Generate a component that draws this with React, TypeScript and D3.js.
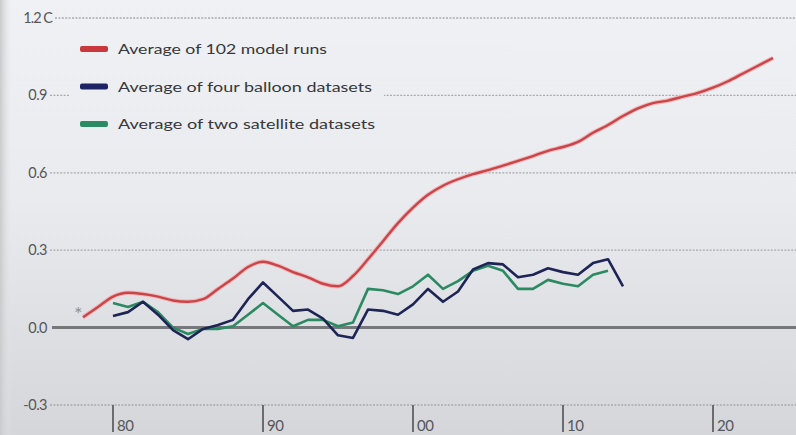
import * as d3 from "d3";

// years and values (deg C anomaly)
const modelYears = d3.range(1978, 2025);
const modelRuns = [
  0.04, 0.08, 0.12, 0.135, 0.13, 0.12, 0.105, 0.1, 0.11, 0.15,
  0.19, 0.235, 0.255, 0.24, 0.215, 0.195, 0.17, 0.16, 0.2, 0.265,
  0.335, 0.405, 0.465, 0.515, 0.55, 0.575, 0.595, 0.61, 0.628, 0.646,
  0.665, 0.685, 0.7, 0.72, 0.755, 0.785, 0.82, 0.85, 0.87, 0.88,
  0.895, 0.91, 0.93, 0.955, 0.985, 1.015, 1.045,
];

const balloonYears = d3.range(1980, 2015);
const balloon = [
  0.045, 0.06, 0.1, 0.05, -0.01, -0.045, -0.005, 0.01, 0.03, 0.11,
  0.175, 0.12, 0.065, 0.07, 0.035, -0.03, -0.04, 0.07, 0.065, 0.05,
  0.09, 0.15, 0.1, 0.14, 0.225, 0.25, 0.245, 0.195, 0.205, 0.23,
  0.215, 0.205, 0.25, 0.265, 0.16,
];

const satelliteYears = d3.range(1980, 2014);
const satellite = [
  0.095, 0.08, 0.1, 0.06, 0.0, -0.025, -0.005, -0.005, 0.005, 0.05,
  0.095, 0.05, 0.005, 0.03, 0.03, 0.005, 0.02, 0.15, 0.145, 0.13,
  0.16, 0.205, 0.15, 0.18, 0.22, 0.24, 0.22, 0.15, 0.15, 0.185,
  0.17, 0.16, 0.205, 0.22,
];

const yTicks = [1.2, 0.9, 0.6, 0.3, 0.0, -0.3];
const yTickLabels = ["1.2 C", "0.9", "0.6", "0.3", "0.0", "-0.3"];
const xTicks = [1980, 1990, 2000, 2010, 2020];
const xTickLabels = ["80", "90", "00", "10", "20"];

const legendLabels = [
  "Average of 102 model runs",
  "Average of four balloon datasets",
  "Average of two satellite datasets",
];
const legendWidths = [209, 254, 257];

const W = 796;
const H = 435;

export default function App() {
  const x = d3.scaleLinear().domain([1980, 2020]).range([113, 713]);
  const y = d3.scaleLinear().domain([-0.3, 1.2]).range([405, 18]);

  const toPts = (yrs: number[], vals: number[]) =>
    yrs.map((yr, i) => [yr, vals[i]] as [number, number]);

  const straight = d3
    .line<[number, number]>()
    .x((d) => x(d[0]))
    .y((d) => y(d[1]));
  const smooth = d3
    .line<[number, number]>()
    .x((d) => x(d[0]))
    .y((d) => y(d[1]))
    .curve(d3.curveMonotoneX);

  const redPath = smooth(toPts(modelYears, modelRuns)) ?? "";
  const navyPath = straight(toPts(balloonYears, balloon)) ?? "";
  const greenPath = straight(toPts(satelliteYears, satellite)) ?? "";

  const colors = ["#c8383c", "#1d2466", "#2b8a62"];
  const font = "Lato, 'Open Sans', sans-serif";

  return (
    <svg
      width={W}
      height={H}
      style={{ position: "fixed", left: 0, top: 0, fontFamily: font }}
    >
      <defs>
        <linearGradient id="bg" x1="0" y1="0" x2="0" y2={H} gradientUnits="userSpaceOnUse">
          <stop offset="0" stopColor="#eff1f4" />
          <stop offset="0.45" stopColor="#e9ebee" />
          <stop offset="1" stopColor="#d4d6da" />
        </linearGradient>
        <linearGradient id="edge" x1="0" y1="0" x2="1" y2="0">
          <stop offset="0" stopColor="#c9cacc" />
          <stop offset="1" stopColor="#e6e8eb" stopOpacity="0" />
        </linearGradient>
      </defs>
      <rect width={W} height={H} fill="url(#bg)" />
      <rect width={12} height={H} fill="url(#edge)" />

      {/* grid */}
      {yTicks.map((t, i) => (
        <g key={t}>
          {t !== 0 && (
            <line
              x1={i === 0 ? 55 : 50}
              x2={W}
              y1={y(t)}
              y2={y(t)}
              stroke="#a9abae"
              strokeWidth={1.3}
              strokeDasharray="2 1.4"
            />
          )}
          <text
            x={i === 0 ? 52 : 47}
            y={y(t) + 5}
            textAnchor="end"
            fontSize={14.5}
            fill="#55565a"
            letterSpacing={i === 0 ? -1 : -0.5}
          >
            {yTickLabels[i]}
          </text>
        </g>
      ))}
      <line x1={52} x2={W} y1={y(0)} y2={y(0)} stroke="#76787b" strokeWidth={3} />

      {/* x ticks */}
      {xTicks.map((t, i) => (
        <g key={t}>
          <line x1={x(t)} x2={x(t)} y1={y(-0.3)} y2={432} stroke="#6a6c70" strokeWidth={2} />
          <text x={x(t) + 4} y={431} fontSize={15} fill="#55565a" letterSpacing={-0.5}>
            {xTickLabels[i]}
          </text>
        </g>
      ))}

      {/* legend box hides the 0.9 gridline */}
      <rect x={70} y={32} width={314} height={106} fill="url(#bg)" />
      {legendLabels.map((lab, i) => (
        <g key={lab} transform={`translate(80, ${49 + i * 37.5})`}>
          <rect x={0} y={-3} width={28} height={6} rx={2} fill={colors[i]} />
          <text
            x={38}
            y={5}
            fontSize={14}
            fill="#36373a"
            textLength={legendWidths[i]}
            lengthAdjust="spacingAndGlyphs"
          >
            {lab}
          </text>
        </g>
      ))}

      {/* series */}
      <path d={greenPath} fill="none" stroke="#2b8a62" strokeWidth={2.6} strokeLinejoin="round" />
      <path d={navyPath} fill="none" stroke="#1e2456" strokeWidth={2.6} strokeLinejoin="round" />
      <path d={redPath} fill="none" stroke="#f2b9bb" strokeWidth={4.5} strokeLinejoin="round" />
      <path d={redPath} fill="none" stroke="#c9454a" strokeWidth={2.4} strokeLinejoin="round" />

      <text x={x(1978) - 9} y={y(0.07) + 11} fontSize={20} fill="#909195">
        *
      </text>
    </svg>
  );
}
